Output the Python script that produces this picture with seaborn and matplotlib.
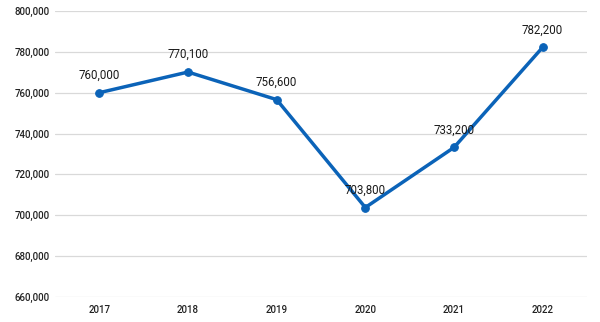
import matplotlib
matplotlib.use("Agg")
import matplotlib.pyplot as plt
import seaborn as sns
import pandas as pd
from matplotlib.ticker import FuncFormatter

years = ["2017", "2018", "2019", "2020", "2021", "2022"]
values = [760000, 770100, 756600, 703800, 733200, 782200]
y_ticks = [660000, 680000, 700000, 720000, 740000, 760000, 780000, 800000]

df = pd.DataFrame({"year": years, "value": values})

sns.set_theme(style="whitegrid")
plt.rcParams["font.family"] = ["Roboto", "DejaVu Sans"]

line_color = "#0B63B8"

fig = plt.figure(figsize=(6.0, 3.22), dpi=100)
ax = fig.add_axes([0.0917, 0.0776, 0.8866, 0.8884])

sns.lineplot(data=df, x="year", y="value", ax=ax, color=line_color,
             linewidth=2.5, marker="o", markersize=5.5,
             markeredgecolor=line_color, sort=False)

for i, v in enumerate(values):
    ax.annotate(f"{v:,}", xy=(i, v), xytext=(0, 12.5),
                textcoords="offset points", ha="center", va="center",
                fontsize=8.3, color="#1a1a1a")

ax.set_xlim(-0.5, len(years) - 0.5)
ax.set_ylim(660000, 800000)
ax.set_yticks(y_ticks)
ax.yaxis.set_major_formatter(FuncFormatter(lambda v, _: f"{int(v):,}"))
ax.set_xlabel("")
ax.set_ylabel("")

ax.grid(axis="x", visible=False)
ax.grid(axis="y", color="#d9d9d9", linewidth=0.9)
for side in ax.spines.values():
    side.set_visible(False)

ax.tick_params(axis="both", length=0, labelsize=7, labelcolor="#222222")
ax.tick_params(axis="y", pad=4)
ax.tick_params(axis="x", pad=6)
for lbl in ax.get_xticklabels() + ax.get_yticklabels():
    lbl.set_fontweight("medium")

fig.savefig("out.png", dpi=100, facecolor="white")
